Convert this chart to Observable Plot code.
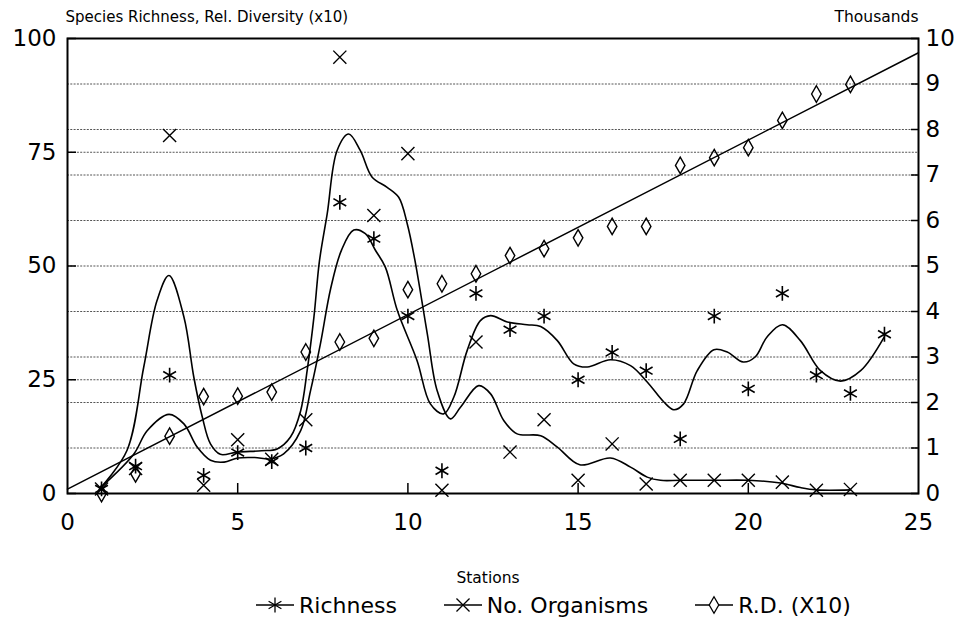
<!DOCTYPE html>
<html>
<head>
<meta charset="utf-8">
<script src="https://cdn.jsdelivr.net/npm/d3@7"></script>
<script src="https://cdn.jsdelivr.net/npm/@observablehq/plot@0.6"></script>
<style>
  html, body { margin: 0; padding: 0; background: #fff; }
  body { width: 967px; height: 621px; position: relative; overflow: hidden;
         font-family: "DejaVu Sans", sans-serif; color: #000; }
  #legend { position: absolute; left: 255px; top: 589px; height: 32px;
            display: flex; align-items: center; gap: 46px; font-size: 22px; }
  .item { display: flex; align-items: center; gap: 4px; }
  .item svg { display: block; }
</style>
</head>
<body>
<div id="chart"></div>
<div id="legend"></div>
<script>
// Sampling stations along the transect
const stations = d3.range(1, 24);
const richnessStations = d3.range(1, 25);

// Species richness (left axis)
const richness = [1, 6, 26, 4, 9, 7, 10, 64, 56, 39, 5, 44, 36, 39, 25, 31, 27, 12, 39, 23, 44, 26, 22, 35];
// Number of organisms, thousands (right axis)
const organisms = [0.1, 0.55, 7.87, 0.18, 1.18, 0.75, 1.62, 9.59, 6.11, 7.47, 0.07, 3.33, 0.91, 1.62, 0.29, 1.09, 0.21, 0.29, 0.29, 0.29, 0.25, 0.07, 0.09];
// Relative diversity x10 (left axis)
const relDiversity = [0, 4.3, 12.6, 21.3, 21.4, 22.3, 31.1, 33.3, 34.1, 44.8, 46.1, 48.3, 52.3, 53.8, 56.2, 58.7, 58.7, 72.1, 73.8, 76.0, 82.0, 87.8, 89.9];

// Smoothed richness trace: [station, richness]
const richnessFit = [
  [1.0, 1.5], [1.95, 8.7], [2.34, 13.8], [2.98, 17.4], [3.42, 15.3], [3.81, 10.2],
  [4.2, 7.3], [4.6, 6.9], [5.0, 7.8], [5.5, 7.9], [5.96, 7.6], [6.35, 8.7], [6.85, 13.8],
  [7.14, 22.6], [7.43, 32.9], [7.73, 45.0], [8.05, 53.5], [8.41, 57.9], [8.75, 57.1],
  [9.05, 53.4], [9.34, 49.7], [9.69, 40.2], [10.27, 29.2], [10.66, 19.7], [11.05, 17.5],
  [11.35, 21.2], [11.74, 31.4], [12.13, 38.0], [12.43, 39.1], [12.92, 37.7], [13.5, 37.1],
  [13.9, 36.7], [14.39, 33.6], [14.87, 28.5], [15.27, 27.8], [15.95, 29.4], [16.54, 28.1],
  [17.03, 24.5], [17.52, 20.1], [17.81, 18.4], [18.1, 19.7], [18.5, 27.0], [18.99, 31.6],
  [19.38, 31.1], [19.85, 28.9], [20.2, 30.0], [20.55, 34.4], [21.0, 37.1], [21.53, 33.6],
  [22.12, 27.0], [22.71, 24.7], [23.3, 27.0], [24.0, 34.5]
];
// Smoothed organisms trace: [station, thousands]
const organismsFit = [
  [1.0, 0.15], [1.75, 0.95], [2.24, 2.78], [2.63, 4.24], [2.98, 4.79], [3.42, 3.88],
  [3.71, 2.56], [3.96, 1.68], [4.2, 1.09], [4.49, 0.86], [4.98, 0.91], [5.7, 0.94],
  [6.16, 0.98], [6.55, 1.24], [6.85, 1.82], [7.04, 2.7], [7.24, 3.88], [7.4, 5.1],
  [7.63, 6.15], [7.92, 7.54], [8.26, 7.9], [8.6, 7.54], [8.95, 6.95], [9.39, 6.73],
  [9.73, 6.51], [9.98, 5.93], [10.2, 5.15], [10.57, 3.51], [10.86, 2.26], [11.25, 1.64],
  [11.55, 1.9], [12.08, 2.37], [12.43, 2.19], [12.82, 1.6], [13.21, 1.31], [13.9, 1.27],
  [14.39, 1.02], [15.05, 0.63], [15.95, 0.78], [16.54, 0.58], [17.03, 0.36], [17.42, 0.29],
  [18.0, 0.29], [19.0, 0.29], [20.0, 0.29], [20.95, 0.23], [21.53, 0.13], [22.0, 0.08],
  [23.0, 0.08]
];

// Axis ticks
const xTicks = [0, 5, 10, 15, 20, 25];
const leftTicks = [0, 25, 50, 75, 100];
const rightTicks = [0, 1, 2, 3, 4, 5, 6, 7, 8, 9, 10];

// One thousand organisms on the right axis spans ten units of the left axis
const K = 10;

// Horizontal guide lines at every left and right tick inside the frame
const gridValues = Array.from(new Set([...leftTicks, ...rightTicks.map(t => t * K)]))
  .filter(v => v > 0 && v < 100).sort((a, b) => a - b);

// Least-squares trend of relative diversity, drawn across the whole x domain
const rdMeanX = d3.mean(stations), rdMeanY = d3.mean(relDiversity);
const rdSlope = d3.sum(stations, (s, i) => (s - rdMeanX) * (relDiversity[i] - rdMeanY)) /
                d3.sum(stations, s => (s - rdMeanX) ** 2);
const rdIntercept = rdMeanY - rdSlope * rdMeanX;
const rdTrend = [0, 25].map(s => ({station: s, value: rdIntercept + rdSlope * s}));

const richnessData = richness.map((v, i) => ({station: richnessStations[i], value: v}));
const organismData = organisms.map((v, i) => ({station: stations[i], value: v * K}));
const rdData = relDiversity.map((v, i) => ({station: stations[i], value: v}));

const numFont = "DejaVu Sans";
const textFont = "DejaVu Sans";

const chart = Plot.plot({
  width: 967,
  height: 589,
  marginLeft: 67,
  marginRight: 49,
  marginTop: 38,
  marginBottom: 96,
  style: {background: "#fff", color: "#000", fontFamily: textFont},
  x: {domain: [0, 25]},
  y: {domain: [0, 100]},
  marks: [
    Plot.ruleY(gridValues, {stroke: "#555", strokeWidth: 1, strokeDasharray: "2,1.3"}),
    Plot.line(organismsFit, {x: d => d[0], y: d => d[1] * K, curve: "catmull-rom", stroke: "#000", strokeWidth: 1.6}),
    Plot.line(richnessFit, {x: d => d[0], y: d => d[1], curve: "catmull-rom", stroke: "#000", strokeWidth: 1.6}),
    Plot.line(rdTrend, {x: "station", y: "value", stroke: "#000", strokeWidth: 1.5}),
    Plot.dot(rdData, {x: "station", y: "value", symbol: "diamond", r: 5, stroke: "#000", fill: "none", strokeWidth: 1.4}),
    Plot.dot(richnessData, {x: "station", y: "value", symbol: "asterisk", r: 7, stroke: "#000", strokeWidth: 1.6}),
    Plot.dot(organismData, {x: "station", y: "value", symbol: "times", r: 6, stroke: "#000", strokeWidth: 1.4}),
    Plot.frame({stroke: "#000", strokeWidth: 2}),
    // left axis: labels, then inward ticks
    Plot.axisY(leftTicks, {anchor: "left", tickSize: 0, tickPadding: 11, label: null, fontSize: 23, fontFamily: numFont}),
    Plot.axisY(leftTicks, {anchor: "left", tickSize: 9, dx: 9, fill: "none", label: null, strokeWidth: 1.5}),
    // right axis (thousands)
    Plot.axisY(rightTicks.map(t => t * K), {anchor: "right", tickFormat: d => d / K, tickSize: 0, tickPadding: 7, label: null, fontSize: 23, fontFamily: numFont}),
    Plot.axisY(rightTicks.map(t => t * K), {anchor: "right", tickSize: 8, dx: -8, fill: "none", label: null, strokeWidth: 1.5}),
    // bottom axis
    Plot.axisX(xTicks, {anchor: "bottom", tickSize: 0, tickPadding: 20, label: null, fontSize: 23, fontFamily: numFont}),
    Plot.axisX(xTicks.slice(1, -1), {anchor: "bottom", tickSize: 10, dy: -10, fill: "none", label: null, strokeWidth: 1.5}),
    // axis titles
    Plot.text(["Species Richness, Rel. Diversity (x10)"], {frameAnchor: "top-left", textAnchor: "start", lineAnchor: "middle", dx: -2, dy: -21, fontSize: 15, fill: "#000"}),
    Plot.text(["Thousands"], {frameAnchor: "top-right", textAnchor: "end", lineAnchor: "middle", dy: -21, fontSize: 15.5, fill: "#000"}),
    Plot.text(["Stations"], {frameAnchor: "bottom", lineAnchor: "middle", dx: -5, dy: 85, fontSize: 15.5, fill: "#000"})
  ]
});
document.getElementById("chart").appendChild(chart);

// Legend: line sample with the series symbol, then the series name
const legendItems = [
  {name: "Richness", symbol: d3.symbolAsterisk, r: 7},
  {name: "No. Organisms", symbol: d3.symbolTimes, r: 6},
  {name: "R.D. (X10)", symbol: d3.symbolDiamond, r: 5}
];
const legend = d3.select("#legend");
for (const item of legendItems) {
  const div = legend.append("div").attr("class", "item");
  const svg = div.append("svg").attr("width", 40).attr("height", 20);
  svg.append("line").attr("x1", 1).attr("x2", 39).attr("y1", 10).attr("y2", 10)
    .attr("stroke", "#000").attr("stroke-width", 1.5);
  svg.append("path").attr("transform", "translate(20,10)")
    .attr("d", d3.symbol(item.symbol, Math.PI * item.r * item.r)())
    .attr("fill", "#fff").attr("stroke", "#000").attr("stroke-width", 1.3);
  div.append("span").text(item.name);
}
</script>
</body>
</html>
